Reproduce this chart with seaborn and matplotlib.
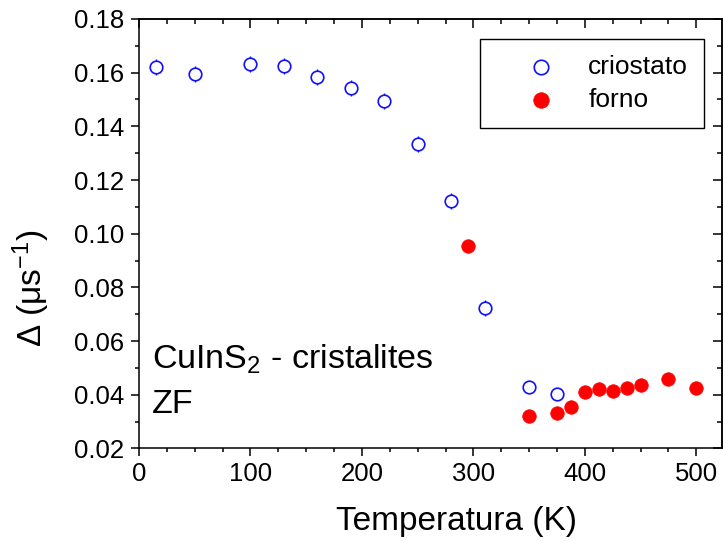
import matplotlib
matplotlib.use("Agg")
import matplotlib.pyplot as plt
import seaborn as sns
import pandas as pd
from matplotlib.ticker import MultipleLocator

# ---- data ----
crio_T = [15, 50, 100, 130, 160, 190, 220, 250, 280, 310, 350, 375]
crio_D = [0.1620, 0.1595, 0.1631, 0.1626, 0.1583, 0.1544, 0.1495, 0.1334,
          0.1123, 0.0723, 0.0429, 0.0404]
crio_err = [0.003, 0.003, 0.003, 0.003, 0.003, 0.003, 0.003, 0.003,
            0.003, 0.003, 0.002, 0.002]

forno_T = [295, 350, 375, 387.5, 400, 412.5, 425, 437.5, 450, 475, 500]
forno_D = [0.0956, 0.0322, 0.0331, 0.0356, 0.0409, 0.0423, 0.0415, 0.0427,
           0.0435, 0.0459, 0.0427]

series_labels = ["criostato", "forno"]
x_label = "Temperatura (K)"
y_label = "Δ (μs$^{-1}$)"
note_lines = ["CuInS$_2$ - cristalites", "ZF"]

crio = pd.DataFrame({"T": crio_T, "D": crio_D, "err": crio_err})
forno = pd.DataFrame({"T": forno_T, "D": forno_D})

sns.set_style("ticks")
plt.rcParams["font.family"] = ["Liberation Sans", "DejaVu Sans"]
plt.rcParams["mathtext.fontset"] = "custom"
plt.rcParams["mathtext.rm"] = "Liberation Sans"
plt.rcParams["mathtext.it"] = "Liberation Sans:italic"
plt.rcParams["mathtext.bf"] = "Liberation Sans:bold"
for k in ["text.color", "axes.labelcolor", "xtick.color", "ytick.color",
          "axes.edgecolor"]:
    plt.rcParams[k] = "black"

fig = plt.figure(figsize=(7.23, 5.41), dpi=100)
ax = fig.add_axes([0.1923, 0.171, 0.8063, 0.794])

blue = "#1010ff"
red = "#ff0000"

ax.errorbar(crio["T"], crio["D"], yerr=crio["err"], fmt="none",
            ecolor=blue, elinewidth=1.0, capsize=0, zorder=2)
sns.scatterplot(data=crio, x="T", y="D", ax=ax, marker="o", s=82,
                facecolor="white", edgecolor=blue, linewidth=1.2,
                label=series_labels[0], zorder=3)
sns.scatterplot(data=forno, x="T", y="D", ax=ax, marker="o", s=95,
                color=red, edgecolor=red, linewidth=0.5,
                label=series_labels[1], zorder=4)

ax.set_xlim(0, 523)
ax.set_ylim(0.02, 0.18)
ax.xaxis.set_major_locator(MultipleLocator(100))
ax.xaxis.set_minor_locator(MultipleLocator(25))
ax.yaxis.set_major_locator(MultipleLocator(0.02))
ax.yaxis.set_minor_locator(MultipleLocator(0.01))
ax.yaxis.set_major_formatter(matplotlib.ticker.FormatStrFormatter("%.2f"))

for sp in ax.spines.values():
    sp.set_linewidth(1.1)
    sp.set_color("black")
    sp.set_visible(True)

ax.tick_params(which="major", direction="out", length=5.5, width=1.1,
               labelsize=18.5, colors="black")
ax.tick_params(which="minor", direction="out", length=3, width=1.1,
               colors="black")
ax.tick_params(axis="x", which="major", pad=4)
ax.tick_params(axis="y", which="major", pad=5)

# inward ticks on top and right
top = ax.secondary_xaxis("top")
top.xaxis.set_major_locator(MultipleLocator(100))
top.xaxis.set_minor_locator(MultipleLocator(25))
top.tick_params(which="major", direction="in", length=6.5, width=1.1, labeltop=False)
top.tick_params(which="minor", direction="in", length=3.5, width=1.1)
top.spines["top"].set_linewidth(1.1)
right = ax.secondary_yaxis("right")
right.yaxis.set_major_locator(MultipleLocator(0.02))
right.yaxis.set_minor_locator(MultipleLocator(0.01))
right.tick_params(which="major", direction="in", length=6.5, width=1.1, labelright=False)
right.tick_params(which="minor", direction="in", length=3.5, width=1.1)
right.spines["right"].set_linewidth(1.1)

ax.set_xlabel(x_label, fontsize=24)
ax.set_ylabel(y_label, fontsize=24)
ax.xaxis.set_label_coords(0.544, -0.135)
ax.yaxis.set_label_coords(-0.15, 0.374)

ax.text(0.022, 0.185, note_lines[0], transform=ax.transAxes,
        fontsize=24.5, ha="left", va="baseline")
ax.text(0.022, 0.083, note_lines[1], transform=ax.transAxes,
        fontsize=24.5, ha="left", va="baseline")

leg = ax.legend(loc="upper right", bbox_to_anchor=(0.969, 0.953),
                borderaxespad=0, fontsize=19, frameon=True, fancybox=False,
                edgecolor="black", framealpha=1, borderpad=0.6,
                handlelength=3.4, handletextpad=0.1, labelspacing=0.35,
                markerscale=1.15)
leg.get_frame().set_linewidth(1.0)

fig.savefig("out.png", dpi=100)
